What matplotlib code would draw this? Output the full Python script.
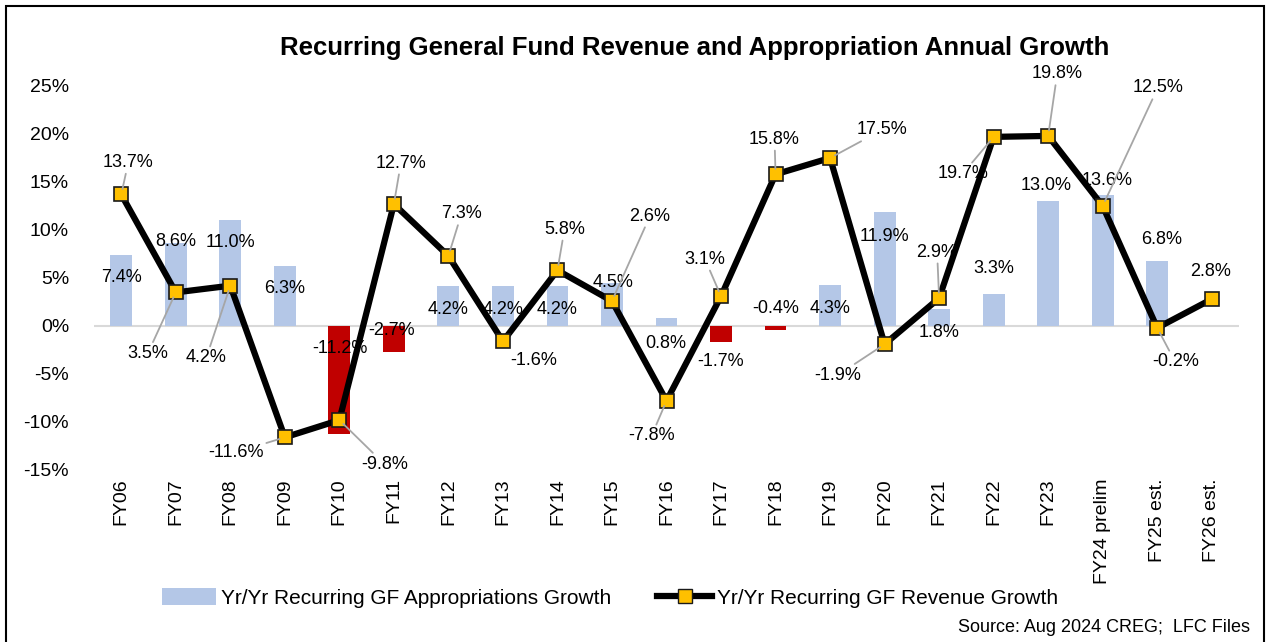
import numpy as np
import matplotlib
matplotlib.use("Agg")
import matplotlib.pyplot as plt
from matplotlib.patches import Rectangle, Patch
from matplotlib.lines import Line2D

plt.rcParams['font.family'] = ['Liberation Sans', 'DejaVu Sans']

categories = ["FY06", "FY07", "FY08", "FY09", "FY10", "FY11", "FY12", "FY13", "FY14",
              "FY15", "FY16", "FY17", "FY18", "FY19", "FY20", "FY21", "FY22", "FY23",
              "FY24 prelim", "FY25 est.", "FY26 est."]
approp_growth = [7.4, 8.6, 11.0, 6.3, -11.2, -2.7, 4.2, 4.2, 4.2, 4.5, 0.8, -1.7, -0.4,
                 4.3, 11.9, 1.8, 3.3, 13.0, 13.6, 6.8, np.nan]
revenue_growth = [13.7, 3.5, 4.2, -11.6, -9.8, 12.7, 7.3, -1.6, 5.8, 2.6, -7.8, 3.1, 15.8,
                  17.5, -1.9, 2.9, 19.7, 19.8, 12.5, -0.2, 2.8]
y_ticks = [-15, -10, -5, 0, 5, 10, 15, 20, 25]

# label offsets in screen pixels (dx right, dy down)
bar_label_off = [(0, 23), (0, -2), (0, 22), (0, 23), (1, -85), (-2, -21), (0, 24), (0, 24),
                 (0, 24), (1, 0), (-1, 25), (0, 19), (0, -21), (0, 24), (0, 25), (0, 24),
                 (0, -26), (-2, -16), (4, -15), (4, -21), (0, 0)]
line_label_off = [(7, -32), (-28, 61), (-24, 72), (-49, 15), (45, 44), (7, -41), (13, -42),
                  (31, 19), (7, -41), (38, -85), (-15, 35), (-16, -37), (-1, -35), (52, -28),
                  (-47, 31), (-2, -46), (-31, 37), (9, -62), (55, -118), (18, 34), (-1, -28)]
leader = [True, True, True, True, True, True, True, False, True, True, True, True, True,
          True, True, True, True, True, True, True, False]

W, H = 1268, 642
fig = plt.figure(figsize=(W / 100, H / 100), dpi=100)
ax = fig.add_axes([94 / W, 1 - 470 / H, (1239 - 94) / W, (470 - 86) / H])

x = np.arange(len(categories))
appr = np.array(approp_growth, dtype=float)
colors = ['#C00000' if (not np.isnan(v) and v < 0) else '#B4C7E7' for v in appr]
ax.bar(x, np.nan_to_num(appr), width=0.4, color=colors, zorder=2)
ax.axhline(0, color='#D9D9D9', lw=1.5, zorder=1)
ax.plot(x, revenue_growth, color='black', lw=4.5, marker='s', markersize=10,
        markerfacecolor='#FFC000', markeredgecolor='#1a1a1a', markeredgewidth=1.2, zorder=4)

ax.set_xlim(-0.5, len(categories) - 0.5)
ax.set_ylim(-15, 25)
ax.set_yticks(y_ticks)
ax.set_yticklabels([f"{t}%" for t in y_ticks], fontsize=14)
ax.set_xticks(x)
ax.set_xticklabels(categories, rotation=90, fontsize=14, va='top')
ax.tick_params(length=0, pad=6)
ax.tick_params(axis='y', pad=18)
for s in ax.spines.values():
    s.set_visible(False)

for i, v in enumerate(appr):
    if np.isnan(v):
        continue
    dx, dy = bar_label_off[i]
    ax.annotate(f"{v:.1f}%", xy=(x[i], v), xytext=(dx, -dy), textcoords='offset pixels',
                ha='center', va='center', fontsize=13, zorder=5)

for i, v in enumerate(revenue_growth):
    dx, dy = line_label_off[i]
    props = dict(arrowstyle='-', color='#A6A6A6', lw=1.3, shrinkA=0, shrinkB=4) if leader[i] else None
    ax.annotate(f"{v:.1f}%", xy=(x[i], v), xytext=(dx, -dy), textcoords='offset pixels',
                ha='center', va='center', fontsize=13, zorder=6, arrowprops=props)

fig.text(695 / W, 1 - 48 / H, "Recurring General Fund Revenue and Appropriation Annual Growth",
         ha='center', va='center', fontsize=18.5, fontweight='bold')

handles = [Patch(facecolor='#B4C7E7', edgecolor='none'),
           Line2D([0], [0], color='black', lw=4.5, marker='s', markersize=10,
                  markerfacecolor='#FFC000', markeredgecolor='#1a1a1a')]
fig.legend(handles, ["Yr/Yr Recurring GF Appropriations Growth", "Yr/Yr Recurring GF Revenue Growth"],
           loc='center', bbox_to_anchor=(610 / W, 1 - 598 / H), ncol=2, frameon=False,
           fontsize=15, handlelength=2.6, handleheight=0.9, columnspacing=2.2, handletextpad=0.25)

fig.text(1250 / W, 1 - 628 / H, "Source: Aug 2024 CREG;  LFC Files", ha='right', va='center',
         fontsize=13)

fig.patches.append(Rectangle((6 / W, -0.02), (1264 - 6) / W, 1 - 6 / H + 0.02, fill=False,
                             edgecolor='black', lw=1.5, transform=fig.transFigure, figure=fig))

fig.savefig("out.png", dpi=100)
